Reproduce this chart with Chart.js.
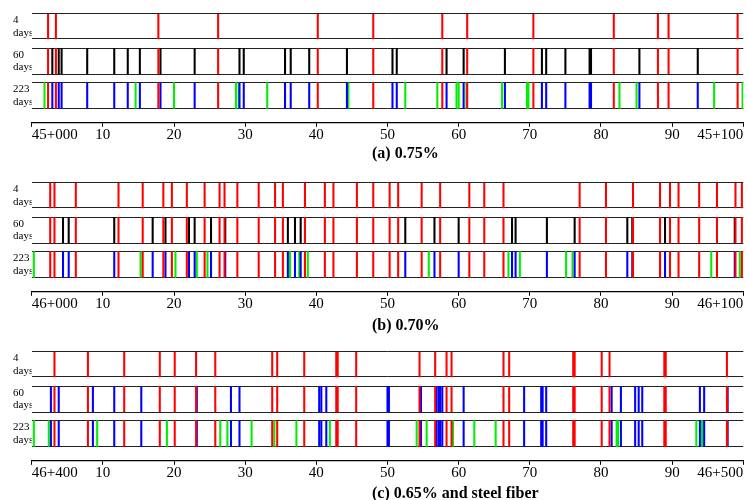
<!DOCTYPE html>
<html>
<head>
<meta charset="utf-8">
<script src="https://cdn.jsdelivr.net/npm/chart.js@4.4.0/dist/chart.umd.min.js"></script>
<style>
  body { margin: 0; background: #fff; width: 748px; height: 500px; position: relative; overflow: hidden; }
  canvas { position: absolute; left: 0; }
  .cap { position: absolute; left: 372px; font: bold 16px 'Liberation Serif', serif; line-height: 16px; white-space: nowrap; color: #000; }
</style>
</head>
<body>
<canvas id="panelA" width="748" height="169" style="top:0px"></canvas>
<canvas id="panelB" width="748" height="169" style="top:169px"></canvas>
<canvas id="panelC" width="748" height="169" style="top:338px"></canvas>
<div class="cap" style="top:145px">(a) 0.75%</div>
<div class="cap" style="top:317px">(b) 0.70%</div>
<div class="cap" style="top:485px">(c) 0.65% and steel fiber</div>
<script>
// crack positions (m from start of section)
const a4 = [2.3, 3.4, 17.8, 26.2, 40.2, 48.0, 57.7, 61.2, 70.5, 81.8, 88.0, 89.5, 99.2];
const a60 = [2.9, 3.8, 4.2, 7.8, 11.6, 13.5, 15.2, 18.1, 22.9, 29.2, 29.8, 35.6, 36.4, 39.0, 44.3, 50.7, 51.3,
  58.3, 60.7, 66.5, 71.7, 72.3, 75.0, 78.4, 78.6, 85.4, 93.6];
const a223 = [1.8, 14.6, 20.0, 28.7, 29.1, 33.1, 44.5, 52.5, 57.0, 59.7, 60.0, 61.1, 66.1, 69.6, 69.8, 82.6, 85.0, 95.9, 99.9];

const b4 = [2.6, 3.2, 6.2, 12.2, 15.6, 18.5, 19.7, 21.8, 24.3, 26.4, 27.1, 28.9, 31.9, 34.2, 35.3, 38.4, 41.2, 42.4,
  45.7, 48.0, 50.3, 51.5, 54.8, 57.4, 61.5, 63.6, 66.3, 77.0, 80.7, 84.5, 88.3, 89.7, 90.9, 93.8, 96.3, 98.9, 99.8];
const b60 = [4.4, 5.2, 11.6, 17.0, 18.8, 22.1, 22.9, 25.2, 27.2, 36.0, 37.0, 37.8, 52.5, 56.6, 60.0, 67.5, 68.0,
  72.4, 76.3, 83.7, 84.4, 89.0, 98.8];
const b223 = [0.3, 15.3, 20.2, 23.2, 24.7, 36.3, 37.6, 38.8, 55.8, 67.0, 68.6, 75.1, 76.0, 95.5, 99.5];

const c4 = [3.2, 7.9, 13.0, 18.0, 20.1, 23.1, 25.8, 33.8, 34.5, 38.3, 42.8, 43.0, 45.6, 54.5, 56.7, 58.3, 59.0,
  66.3, 67.1, 76.1, 76.3, 80.1, 81.2, 88.9, 89.1, 97.7];
const c60 = [2.7, 3.8, 8.6, 11.6, 15.4, 23.2, 28.0, 29.2, 40.4, 40.7, 41.4, 50.0, 50.2, 54.7, 56.9, 57.2, 57.4,
  57.7, 60.7, 69.2, 71.6, 71.8, 72.3, 81.5, 82.8, 84.8, 85.3, 85.8, 93.9, 94.5, 97.8];
const c223 = [0.3, 2.4, 9.2, 19.0, 26.5, 27.5, 30.9, 34.1, 37.2, 41.9, 54.1, 55.5, 59.2, 62.2, 65.2, 82.2, 82.4, 93.4, 94.2];

const ticksA = ['45+000', '10', '20', '30', '40', '50', '60', '70', '80', '90', '45+100'];
const ticksB = ['46+000', '10', '20', '30', '40', '50', '60', '70', '80', '90', '46+100'];
const ticksC = ['46+400', '10', '20', '30', '40', '50', '60', '70', '80', '90', '46+500'];

const rowLabels = [['4', 'days'], ['60', 'days'], ['223', 'days']];

// row bands on the y scale (top row first)
const rows = [[84, 109], [48.8, 74.4], [14.5, 40.2]];
const bounds = rows.flat();
const serif = "'Liberation Serif', 'Times New Roman', serif";

function bars(list, row, color) {
  return {
    data: list.map(v => ({ x: v, y: rows[row] })),
    backgroundColor: color,
    borderWidth: 0,
    barThickness: 1.4,
    grouped: false
  };
}

function makePanel(id, c4list, c60list, c223list, tickLabels, midColor) {
  new Chart(document.getElementById(id), {
    type: 'bar',
    data: {
      datasets: [
        bars(c4list, 0, '#ff0000'),
        bars(c4list, 1, '#ff0000'),
        bars(c4list, 2, '#ff0000'),
        bars(c60list, 1, midColor),
        bars(c60list, 2, '#0000ff'),
        bars(c223list, 2, '#00ee00')
      ]
    },
    options: {
      responsive: false,
      animation: false,
      layout: { padding: { top: 13.8, left: 13, right: 4.7, bottom: 0 } },
      plugins: { legend: { display: false }, tooltip: { enabled: false } },
      scales: {
        x: {
          type: 'linear',
          min: 0,
          max: 100,
          offset: false,
          afterFit: s => { s.height = 46.2; },
          border: { display: true, color: '#000', width: 1.2 },
          grid: { display: true, drawOnChartArea: false, drawTicks: true, tickLength: 4, tickColor: '#000', offset: false },
          ticks: {
            stepSize: 10,
            autoSkip: false,
            maxRotation: 0,
            align: 'inner',
            padding: -1,
            color: '#000',
            font: { family: serif, size: 15 },
            callback: (v, i) => tickLabels[i]
          }
        },
        y: {
          type: 'linear',
          min: 0,
          max: 109,
          afterFit: s => { s.width = 18.7; },
          afterBuildTicks: s => {
            const ticks = bounds.map(v => ({ value: v }));
            rows.forEach(r => ticks.push({ value: (r[0] + r[1]) / 2, label: true }));
            s.ticks = ticks;
          },
          border: { display: false },
          grid: {
            drawTicks: false,
            lineWidth: 1,
            color: ctx => bounds.includes(ctx.tick.value) ? '#222' : 'rgba(0,0,0,0)'
          },
          ticks: {
            autoSkip: false,
            crossAlign: 'far',
            padding: 0,
            color: '#000',
            font: { family: serif, size: 11, lineHeight: 1.15 },
            callback: function (v) {
              const k = rows.findIndex(r => (r[0] + r[1]) / 2 === v);
              return k >= 0 ? rowLabels[k] : '';
            }
          }
        }
      }
    }
  });
}

makePanel('panelA', a4, a60, a223, ticksA, '#000000');
makePanel('panelB', b4, b60, b223, ticksB, '#000000');
makePanel('panelC', c4, c60, c223, ticksC, '#0000ff');
</script>
</body>
</html>
